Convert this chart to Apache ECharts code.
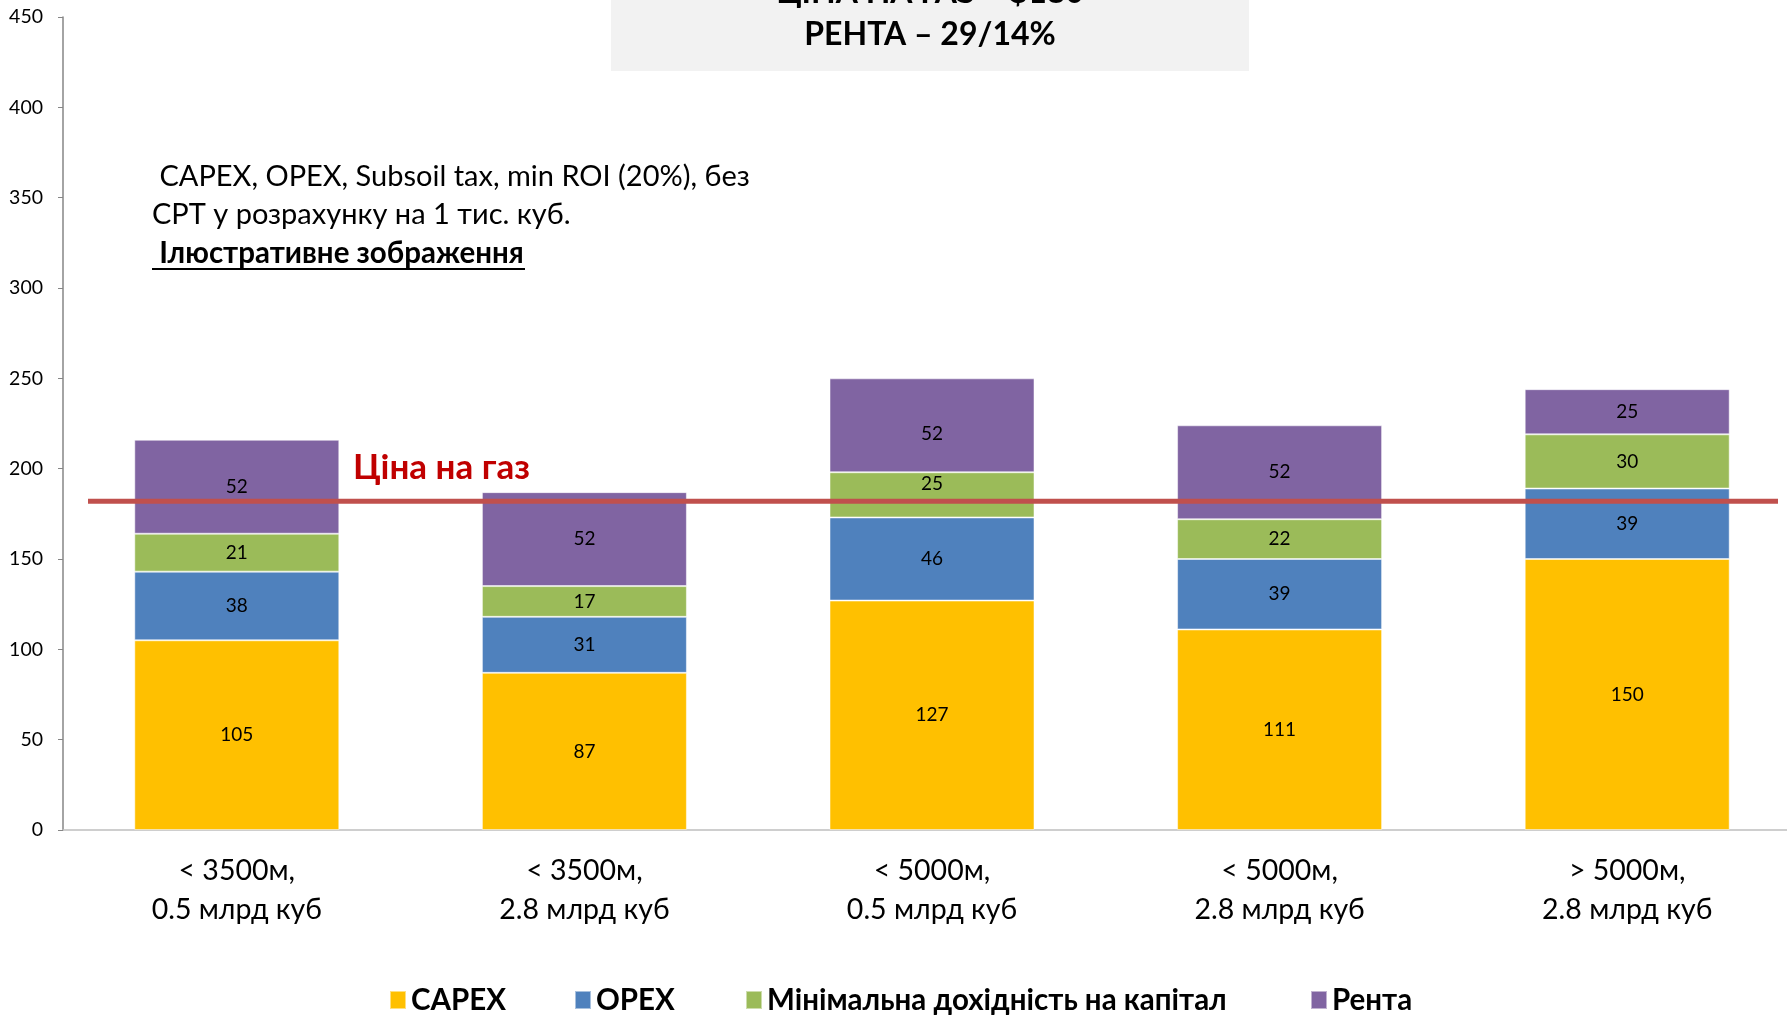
<!DOCTYPE html>
<html><head><meta charset="utf-8">
<script src="https://cdn.jsdelivr.net/npm/echarts@6/dist/echarts.min.js"></script>
<style>html,body{margin:0;padding:0;background:#fff;overflow:hidden}#c{width:1820px;height:1017px}</style>
</head><body><div id="c"></div>
<script>
const categories = ['< 3500м,\n0.5 млрд куб', '< 3500м,\n2.8 млрд куб', '< 5000м,\n0.5 млрд куб', '< 5000м,\n2.8 млрд куб', '> 5000м,\n2.8 млрд куб'];
const capex = [105, 87, 127, 111, 150];
const opex = [38, 31, 46, 39, 39];
const minRoi = [21, 17, 25, 22, 30];
const renta = [52, 52, 52, 52, 25];
const gasPrice = 182;
const seriesNames = ['CAPEX', 'OPEX', 'Мінімальна дохідність на капітал', 'Рента'];
const yTicks = {min: 0, max: 450, interval: 50};

const FONT = 'Lato, "Open Sans", sans-serif';
const colors = ['#FFC000', '#4F81BD', '#9BBB59', '#8064A2'];
const legendLefts = [389, 574, 745, 1310];
// manual label nudges (series index -> category index -> [dx, dy] px)
const labelNudge = {2: {2: [0, -11]}, 3: {2: [0, 9]}};
const chart = echarts.init(document.getElementById('c'));
const datas = [capex, opex, minRoi, renta];
const option = {
  animation: false,
  textStyle: {fontFamily: FONT},
  grid: {left: 63, width: 1738, top: 17, height: 813},
  legend: seriesNames.map((n, i) => ({
    left: legendLefts[i], top: 985, padding: 0, itemWidth: 16, itemHeight: 18,
    icon: 'rect',
    textStyle: {fontSize: 29.5, fontWeight: 'bold', color: '#000', fontFamily: FONT},
    data: [n]
  })),
  xAxis: {
    type: 'category', data: categories,
    axisLine: {lineStyle: {color: '#BFBFBF', width: 1.5}},
    axisTick: {show: false},
    axisLabel: {fontSize: 28.5, color: '#000', lineHeight: 39, margin: 21, fontFamily: FONT}
  },
  yAxis: {
    type: 'value', min: yTicks.min, max: yTicks.max, interval: yTicks.interval,
    splitLine: {show: false},
    axisLine: {show: true, lineStyle: {color: '#868686', width: 1.5}},
    axisTick: {show: true, length: 5, lineStyle: {color: '#868686'}},
    axisLabel: {fontSize: 19.5, color: '#000', margin: 20, fontFamily: FONT}
  },
  series: datas.map((d, i) => ({
    name: seriesNames[i], type: 'bar', stack: 'total', barWidth: 205,
    data: d.map((v, j) => (labelNudge[i] && labelNudge[i][j]) ? {value: v, label: {offset: labelNudge[i][j]}} : v),
    itemStyle: {color: colors[i], borderColor: 'rgba(255,255,255,0.5)', borderWidth: 1},
    label: {show: true, position: 'inside', fontSize: 19, color: '#000', fontFamily: FONT}
  }))
};
chart.setOption(option);
const yPrice = chart.convertToPixel({yAxisIndex: 0}, gasPrice);
chart.setOption({
  graphic: [
    {type: 'rect', shape: {x: 611, y: 0, width: 638, height: 71}, style: {fill: '#F2F2F2'}, z: 10},
    {type: 'text', x: 930, y: -7, style: {text: 'ЦІНА НА ГАЗ – $180', font: 'bold 32px ' + FONT, fill: '#000', align: 'center', verticalAlign: 'middle'}, z: 11},
    {type: 'text', x: 930, y: 35, style: {text: 'РЕНТА – 29/14%', font: 'bold 32px ' + FONT, fill: '#000', align: 'center', verticalAlign: 'middle'}, z: 11},
    {type: 'text', x: 152, y: 177, style: {text: ' CAPEX, OPEX, Subsoil tax, min ROI (20%), без', font: '29px ' + FONT, fill: '#000', verticalAlign: 'middle'}, z: 11},
    {type: 'text', x: 152, y: 215, style: {text: 'СРТ у розрахунку на 1 тис. куб.', font: '29px ' + FONT, fill: '#000', verticalAlign: 'middle'}, z: 11},
    {type: 'text', x: 152, y: 253, style: {text: ' Ілюстративне зображення', font: 'bold 29.5px ' + FONT, fill: '#000', verticalAlign: 'middle'}, z: 11},
    {type: 'line', shape: {x1: 152, y1: 269, x2: 525, y2: 269}, style: {stroke: '#000', lineWidth: 2}, z: 11},
    {type: 'line', shape: {x1: 88, y1: yPrice, x2: 1778, y2: yPrice}, style: {stroke: '#C0504D', lineWidth: 5}, z: 12},
    {type: 'text', x: 353, y: yPrice - 33, style: {text: 'Ціна на газ', font: 'bold 35px ' + FONT, fill: '#C00000', verticalAlign: 'middle'}, z: 12}
  ]
});
</script></body></html>
